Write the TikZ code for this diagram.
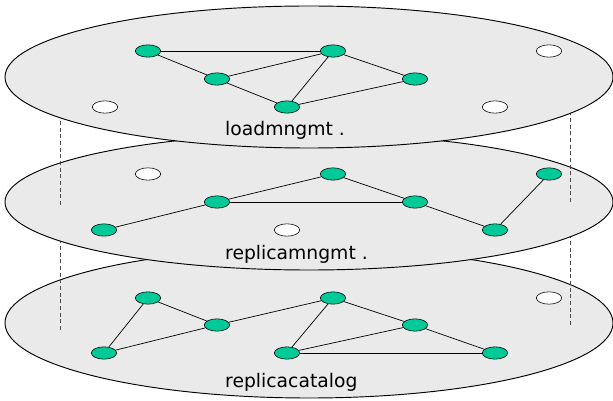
\documentclass[tikz,border=0pt]{standalone}
\usepackage{fontspec}
\setmainfont{DejaVu Sans}
\usetikzlibrary{shapes.geometric}
\definecolor{nodegreen}{RGB}{0,202,152}
\definecolor{layergray}{RGB}{234,234,234}

\begin{document}
\begin{tikzpicture}[x=0.03cm, y=-0.03cm,
  layer/.style={draw, ellipse, fill=layergray, line width=0.8pt, inner sep=0pt, minimum width=18.24cm},
  gnode/.style={draw, ellipse, fill=nodegreen, line width=0.5pt, inner sep=0pt, minimum width=0.76cm, minimum height=0.37cm},
  wnode/.style={gnode, fill=white},
  link/.style={line width=0.6pt},
  guide/.style={black!70, line width=0.5pt, dash pattern=on 0.12cm off 0.08cm},
  title/.style={anchor=base west, inner sep=0pt, font=\fontsize{16}{19}\selectfont}]
\useasboundingbox (0,0) rectangle (613,401);

% Bottom layer: replica catalog
\node[layer, minimum height=4.5cm] (cat) at (309,323) {};
\node[gnode] (c1) at (148,298) {};
\node[gnode] (c2) at (333,298) {};
\node[gnode] (c3) at (217,325) {};
\node[gnode] (c4) at (415,325) {};
\node[gnode] (c5) at (104,353) {};
\node[gnode] (c6) at (287,353) {};
\node[gnode] (c7) at (495,353) {};
\node[wnode] (cw1) at (549,298) {};
\draw[link] (c1) -- (c5);
\draw[link] (c1) -- (c3);
\draw[link] (c5) -- (c3);
\draw[link] (c3) -- (c2);
\draw[link] (c2) -- (c6);
\draw[link] (c2) -- (c4);
\draw[link] (c4) -- (c6);
\draw[link] (c4) -- (c7);
\draw[link] (c6) -- (c7);
\node[title] (catlabel) at (225,387) {replicacatalog};

% Guides between bottom and middle layer
\coordinate (gl1) at (60,330);
\coordinate (gl2) at (60,205);
\coordinate (gr1) at (570,325);
\coordinate (gr2) at (570,202);
\draw[guide] (gl1) -- (gl2);
\draw[guide] (gr1) -- (gr2);

% Middle layer: replica management
\node[layer, minimum height=4.08cm] (rep) at (309,202) {};
\node[gnode] (m1) at (333,174) {};
\node[gnode] (m2) at (549,174) {};
\node[gnode] (m3) at (217,202) {};
\node[gnode] (m4) at (415,202) {};
\node[gnode] (m5) at (104,230) {};
\node[gnode] (m6) at (495,230) {};
\node[wnode] (mw1) at (148,174) {};
\node[wnode] (mw2) at (287,230) {};
\draw[link] (m5) -- (m3);
\draw[link] (m3) -- (m1);
\draw[link] (m3) -- (m4);
\draw[link] (m1) -- (m4);
\draw[link] (m4) -- (m6);
\draw[link] (m6) -- (m2);
\node[title] (replabel) at (225,260) {replicamngmt .};

% Guides between middle and top layer
\coordinate (gl3) at (60,78);
\coordinate (gr3) at (570,78);
\draw[guide] (gl2) -- (gl3);
\draw[guide] (gr2) -- (gr3);

% Top layer: load management
\node[layer, minimum height=4.26cm] (load) at (309,77) {};
\node[gnode] (l1) at (148,51) {};
\node[gnode] (l2) at (333,51) {};
\node[gnode] (l3) at (217,79) {};
\node[gnode] (l4) at (415,79) {};
\node[gnode] (l5) at (287,107) {};
\node[wnode] (lw1) at (549,51) {};
\node[wnode] (lw2) at (105,107) {};
\node[wnode] (lw3) at (495,107) {};
\draw[link] (l1) -- (l2);
\draw[link] (l1) -- (l3);
\draw[link] (l3) -- (l2);
\draw[link] (l3) -- (l5);
\draw[link] (l2) -- (l5);
\draw[link] (l2) -- (l4);
\draw[link] (l4) -- (l5);
\node[title] (loadlabel) at (225,136) {loadmngmt .};
\end{tikzpicture}
\end{document}
